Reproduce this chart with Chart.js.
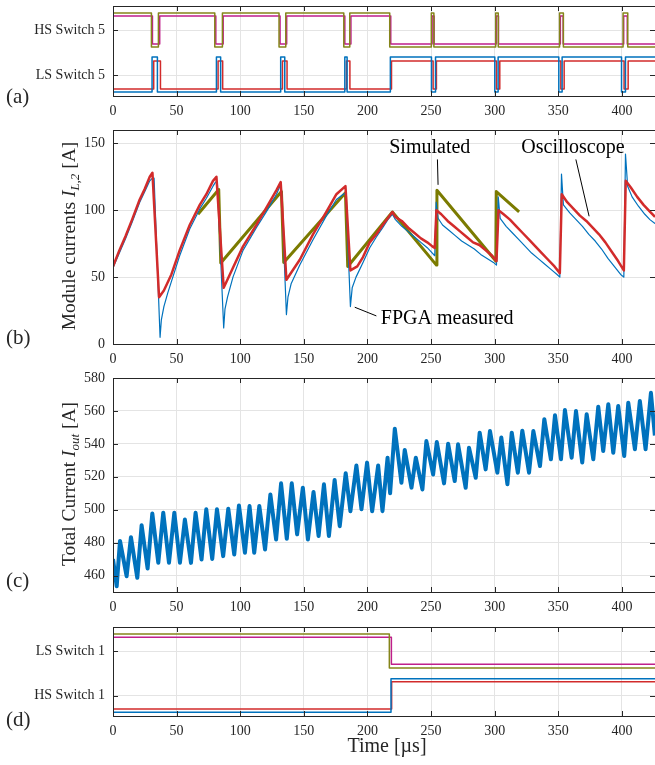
<!DOCTYPE html>
<html>
<head>
<meta charset="utf-8">
<script src="https://cdn.jsdelivr.net/npm/chart.js@4.4.1/dist/chart.umd.min.js"></script>
<style>
  body { margin: 0; background: #fff; }
  #page { position: relative; width: 655px; height: 765px; overflow: hidden;
          font-family: "Liberation Serif", "Times New Roman", serif; color: #262626; }
  canvas { position: absolute; left: 0; }
  .tag { position: absolute; left: 6px; font-size: 21px; line-height: 1; }
  .ytitle { position: absolute; font-size: 19.5px; white-space: nowrap; line-height: 1;
            transform: translate(-50%, -50%) rotate(-90deg); }
  .ytitle sub { font-size: 13px; font-style: italic; vertical-align: -4px; }
  .xtitle { position: absolute; font-size: 20px; white-space: nowrap; line-height: 1;
            transform: translate(-50%, -50%); }
</style>
</head>
<body>
<div id="page">
  <canvas id="pa" width="655" height="122" style="top:0"></canvas>
  <canvas id="pb" width="655" height="250" style="top:122px"></canvas>
  <canvas id="pc" width="655" height="248" style="top:372px"></canvas>
  <canvas id="pd" width="655" height="125" style="top:620px"></canvas>

  <div class="tag" style="top:86px">(a)</div>
  <div class="tag" style="top:327px">(b)</div>
  <div class="tag" style="top:570px">(c)</div>
  <div class="tag" style="top:709px">(d)</div>

  <div class="ytitle" style="left:70px;top:236px">Module currents <i>I</i><sub>L,2</sub> [A]</div>
  <div class="ytitle" style="left:70px;top:484px">Total Current <i>I</i><sub>out</sub> [A]</div>
  <div class="xtitle" style="left:387px;top:745px">Time [µs]</div>
</div>

<script>
const T_MAX = 426;
const timeTicks = [0, 50, 100, 150, 200, 250, 300, 350, 400];

// (a) gate signals of module 5: edge times in µs, every edge toggles the state
const hs5OliveEdges = [30.2, 35.7, 80.0, 86.0, 130.5, 135.8, 181.4, 186.1, 217.5,
  250.2, 252.2, 300.8, 302.8, 351.0, 354.0, 400.9, 404.6];
const hs5MagentaEdges = [31.0, 36.7, 80.8, 86.6, 131.3, 136.5, 182.2, 187.0, 218.3,
  250.8, 252.4, 301.2, 303.0, 351.6, 353.8, 401.4, 404.2];
const ls5BlueEdges = [30.7, 34.9, 81.3, 84.6, 131.8, 135.0, 182.2, 184.0, 218.0,
  250.3, 253.5, 300.1, 302.7, 350.4, 353.0, 399.7, 402.8];
const ls5RedEdges = [32.0, 37.3, 82.6, 86.2, 133.2, 136.8, 183.5, 186.2, 218.9,
  251.6, 254.2, 301.4, 304.0, 352.0, 354.6, 401.7, 404.9];
const switch5Labels = ["LS Switch 5", "HS Switch 5"];

// (b) module currents [A]
const fpgaTime = [0, 5, 10, 15, 21, 25, 28.9, 31, 32.3,
  37, 38, 40, 43, 46, 52.4, 60.3, 68.2, 73.4, 78.6, 80.6, 82,
  87, 88, 90, 94.3, 102.2, 112.7, 120.6, 128.5, 130.8, 132.3,
  136.3, 137.5, 140, 146.8, 157.2, 167.8, 175.6, 181, 183,
  186.6, 188, 191, 196.5, 201.8, 207, 212, 216, 219.6,
  222, 227, 232, 237, 242, 247, 251, 252.9,
  254, 255.5, 259, 264, 269, 274, 279, 284, 289, 294, 299, 301.4,
  302.8, 304.3, 309, 314, 319, 324, 329, 334, 339, 344, 349, 351.2,
  352.5, 354, 359, 364, 369, 374, 379, 384, 389, 394, 399, 401.5,
  402.8, 404.5, 408, 413, 418, 422, 426];
const fpgaCurrent = [57, 68, 79, 91, 106, 114, 122, 124, 124,
  5, 18, 28, 38, 47, 66, 86, 101, 109, 118, 121, 121,
  12, 26, 35, 50, 70, 87, 99, 112, 117, 118,
  22, 35, 45, 59, 78, 96, 108, 112, 113,
  28, 42, 50, 61, 72, 80, 87, 93, 97,
  93, 88, 84, 80, 76, 72, 68, 66,
  106, 94, 89, 85, 81, 77, 74, 71, 67, 64, 61, 59,
  110, 94, 88, 83, 78, 73, 68, 64, 60, 56, 52, 50,
  127, 104, 98, 93, 88, 82, 77, 71, 64, 58, 52, 50,
  142, 118, 110, 103, 97, 93, 90];

const oscTime = [0, 5, 10, 15, 21, 25, 28.9, 31,
  36.2, 40, 45.9, 52.4, 60.3, 68.2, 73.4, 78.6, 81.3,
  87, 94.3, 102.2, 112.7, 120.6, 128.5, 131.8,
  136.3, 146.8, 157.2, 167.8, 175.6, 182.7,
  186.6, 192, 196.5, 201.8, 207, 212, 216, 219.6,
  222, 227, 232, 237, 242, 247, 251, 252.9,
  254.2, 258, 263, 268, 273, 278, 283, 288, 293, 298, 301.4,
  303, 307, 312, 317, 322, 327, 332, 337, 342, 347, 351.2,
  352.7, 357, 362, 367, 372, 377, 382, 387, 392, 397, 401.5,
  403, 407, 412, 417, 422, 426];
const oscCurrent = [58, 70, 81, 93, 108, 116, 125, 128,
  35, 40, 52, 70, 89, 104, 112, 122, 125,
  42, 57, 73, 89, 102, 115, 121,
  48, 63, 82, 99, 112, 118,
  55, 58, 65, 76, 82, 89, 94, 98.7,
  95, 92, 87, 83, 79, 76, 73, 71.7,
  100, 97, 92, 88, 84, 80, 76, 74, 70, 66, 62,
  100, 97, 93, 88, 83, 78, 73, 68, 63, 58, 53,
  112, 106, 101, 96, 92, 87, 82, 76, 69, 62, 55,
  122, 117, 110, 104, 99, 95];

const simTime = [66.8, 83.1, 84.7, 132.4, 134.2, 182.7, 184.5, 219.6, 254.2, 254.6, 300.9, 301.3, 319.2];
const simCurrent = [97, 115.5, 60.5, 114, 61, 113, 58, 98.7, 59, 115, 62, 114, 98.7];

// (c) total output current [A], peaks and troughs
const totalTime = [0, 2.9, 5.5, 10.7, 14.1, 19.1, 22.5, 27.2, 30.9, 35.6,
  39.5, 44, 48.2, 52.6, 56.5, 61.3, 64.9, 69.6, 73.3, 78,
  81.7, 86.6, 90.6, 95.3, 99, 103.7, 107.3, 111, 115, 119.5,
  123.7, 128.2, 132.1, 136.6, 140.5, 144.7, 149.2, 153.2, 157.6, 161.6,
  165.8, 169.7, 174.2, 178.2, 182.9, 186.6, 191.3, 195.3, 199.7, 203.7,
  208.4, 211.8, 215.8, 217.8, 221.5, 226.7, 229.3, 234.6, 238, 243.2,
  246.3, 251.6, 254.5, 260.2, 263.4, 268.6, 271.2, 277.2, 279.8, 285.1,
  288.2, 292.9, 296.3, 302.1, 305.2, 310, 313.4, 318.2, 321.7, 327,
  330.4, 335.6, 339, 344.2, 347.4, 352.1, 355.2, 360.5, 363.9, 368.8,
  372.3, 377.5, 381.4, 385.3, 389.3, 393.2, 397.1, 401.8, 405, 410.2,
  414.1, 418.6, 422.8, 425.9];
const totalCurrent = [470, 453.5, 481, 459.6, 483.3, 458.6, 490.6, 464.3, 497.7, 467.7,
  498.1, 467.7, 498.1, 467.7, 494, 467.7, 498.1, 469.7, 500.2, 470.1,
  500.2, 471.8, 500.6, 472.8, 502.6, 473.8, 502.2, 473.8, 502.2, 475.8,
  509.3, 481.9, 516, 482.3, 516, 485, 513.3, 481.9, 510.7, 484,
  515.4, 484, 518, 490, 522.1, 499.1, 526.9, 500.2, 528.6, 499.1,
  526.9, 499.1, 531.6, 510, 549.2, 516.4, 536.3, 513.4, 531.6, 512.3,
  541.7, 521.4, 541.1, 516, 540.1, 517.4, 539.7, 513.3, 537.7, 519.4,
  546.8, 524.5, 547.8, 522.5, 543.8, 515.4, 546.8, 522.5, 548, 522.5,
  547.8, 526.5, 555, 530.6, 557.4, 530.6, 560.6, 531.6, 560, 528.6,
  558, 530.6, 562.6, 535.7, 564.1, 534.6, 563, 532.6, 565, 536.7,
  566, 536.7, 571, 545];
const totalTicks = [460, 480, 500, 520, 540, 560, 580];

// (d) gate signals of module 1
const ls1OliveEdges = [217.2];
const ls1MagentaEdges = [218.8];
const hs1BlueEdges = [218.5];
const hs1RedEdges = [219.0];
const switch1Labels = ["HS Switch 1", "LS Switch 1"];

const SERIF = '"Liberation Serif", "Times New Roman", serif';
const INK = "#262626";
const GRID = "#e4e4e4";
const BLUE = "#0072bd", RED = "#d22b2b", OLIVE = "#85851a", MAGENTA = "#bf1f8c";

const pairs = (xs, ys) => xs.map((x, i) => ({x, y: ys[i]}));

// square wave from edge list, drawn between the trace's low and high level
function stepPoints(edges, start, lo, hi) {
  let s = start;
  const lvl = () => (s ? hi : lo);
  const pts = [{x: 0, y: lvl()}];
  edges.forEach(t => {
    pts.push({x: t, y: lvl()});
    s = 1 - s;
    pts.push({x: t, y: lvl()});
  });
  pts.push({x: T_MAX, y: lvl()});
  return pts;
}

// MATLAB style box: top edge and inward tick marks
const boxPlugin = {
  id: "box",
  afterDatasetsDraw(chart) {
    const {ctx, chartArea: a, scales: {x, y}} = chart;
    ctx.save();
    ctx.strokeStyle = INK;
    ctx.lineWidth = 1;
    ctx.beginPath();
    ctx.moveTo(a.left, a.top + 0.5); ctx.lineTo(a.right, a.top + 0.5);
    ctx.moveTo(a.left, a.bottom + 0.5); ctx.lineTo(a.right, a.bottom + 0.5);
    ctx.moveTo(a.left + 0.5, a.top); ctx.lineTo(a.left + 0.5, a.bottom + 1);
    x.ticks.forEach(t => {
      const px = Math.round(x.getPixelForValue(t.value)) + 0.5;
      ctx.moveTo(px, a.top); ctx.lineTo(px, a.top + 5);
      ctx.moveTo(px, a.bottom); ctx.lineTo(px, a.bottom - 5);
    });
    y.ticks.forEach(t => {
      const py = Math.round(y.getPixelForValue(t.value)) + 0.5;
      ctx.moveTo(a.left, py); ctx.lineTo(a.left + 5, py);
      ctx.moveTo(a.right, py); ctx.lineTo(a.right - 5, py);
    });
    ctx.stroke();
    ctx.restore();
  }
};

// text callouts in panel (b), anchored in data units
const callouts = [
  {text: "Simulated", at: [249, 147], align: "center", line: [[255, 138], [255.5, 119]]},
  {text: "Oscilloscope", at: [361.5, 147], align: "center", line: [[363.8, 138], [374.2, 95.5]]},
  {text: "FPGA measured", at: [210.5, 19], align: "left", line: [[190, 27.5], [207, 21]]}
];
const calloutPlugin = {
  id: "callouts",
  afterDatasetsDraw(chart) {
    const {ctx, scales: {x, y}} = chart;
    ctx.save();
    ctx.fillStyle = "#000";
    ctx.strokeStyle = "#000";
    ctx.lineWidth = 1;
    ctx.font = "20px " + SERIF;
    ctx.textBaseline = "middle";
    callouts.forEach(c => {
      ctx.textAlign = c.align;
      ctx.fillText(c.text, x.getPixelForValue(c.at[0]), y.getPixelForValue(c.at[1]));
      ctx.beginPath();
      ctx.moveTo(x.getPixelForValue(c.line[0][0]), y.getPixelForValue(c.line[0][1]));
      ctx.lineTo(x.getPixelForValue(c.line[1][0]), y.getPixelForValue(c.line[1][1]));
      ctx.stroke();
    });
    ctx.restore();
  }
};

function makePanel(id, cfg) {
  return new Chart(document.getElementById(id), {
    type: "line",
    data: {datasets: cfg.datasets},
    options: {
      responsive: false,
      animation: false,
      events: [],
      layout: {padding: {top: cfg.padTop, right: 0, bottom: 0, left: 0}, autoPadding: false},
      plugins: {legend: {display: false}, tooltip: {enabled: false}},
      elements: {point: {radius: 0}, line: {tension: 0, borderJoinStyle: "round"}},
      scales: {
        x: {
          type: "linear", min: 0, max: T_MAX,
          afterBuildTicks: s => { s.ticks = timeTicks.map(v => ({value: v})); },
          afterFit: s => { s.height = cfg.xAxisH; s.paddingLeft = 0; s.paddingRight = 0; },
          grid: {color: GRID, drawTicks: false},
          border: {display: false},
          ticks: {font: {family: SERIF, size: 14}, color: INK, padding: 7, maxRotation: 0, autoSkip: false}
        },
        y: {
          type: "linear", min: cfg.yMin, max: cfg.yMax,
          afterBuildTicks: s => { s.ticks = cfg.yTicks.map(v => ({value: v})); },
          afterFit: s => { s.width = 113; s.paddingTop = 0; s.paddingBottom = 0; },
          grid: {color: GRID, drawTicks: false},
          border: {display: false},
          ticks: {font: {family: SERIF, size: 14}, color: INK, padding: 8, callback: cfg.yLabel}
        }
      }
    },
    plugins: [boxPlugin].concat(cfg.plugins || [])
  });
}

const trace = (data, color, width) => ({data, borderColor: color, borderWidth: width, fill: false});

// (a)
makePanel("pa", {
  padTop: 6, xAxisH: 26, yMin: 0, yMax: 1, yTicks: [0.233, 0.733],
  yLabel: (v, i) => switch5Labels[i],
  datasets: [
    trace(stepPoints(hs5OliveEdges, 1, 0.544, 0.922), OLIVE, 1.5),
    trace(stepPoints(hs5MagentaEdges, 1, 0.578, 0.889), MAGENTA, 1.5),
    trace(stepPoints(ls5BlueEdges, 0, 0.044, 0.433), BLUE, 1.5),
    trace(stepPoints(ls5RedEdges, 0, 0.078, 0.389), RED, 1.5)
  ]
});

// (b)
makePanel("pb", {
  padTop: 8, xAxisH: 28, yMin: 0, yMax: 160, yTicks: [0, 50, 100, 150],
  yLabel: v => v,
  plugins: [calloutPlugin],
  datasets: [
    trace(pairs(oscTime, oscCurrent), RED, 2.5),
    trace(pairs(fpgaTime, fpgaCurrent), BLUE, 1.2),
    trace(pairs(simTime, simCurrent), "#7b7b00", 3)
  ]
});

// (c)
makePanel("pc", {
  padTop: 6, xAxisH: 28, yMin: 450, yMax: 580, yTicks: totalTicks,
  yLabel: v => v,
  datasets: [trace(pairs(totalTime, totalCurrent), BLUE, 4)]
});

// (d)
makePanel("pd", {
  padTop: 7, xAxisH: 29, yMin: 0, yMax: 1, yTicks: [0.228, 0.730],
  yLabel: (v, i) => switch1Labels[i],
  datasets: [
    trace(stepPoints(ls1OliveEdges, 1, 0.539, 0.921), OLIVE, 1.5),
    trace(stepPoints(ls1MagentaEdges, 1, 0.581, 0.884), MAGENTA, 1.5),
    trace(stepPoints(hs1BlueEdges, 0, 0.042, 0.419), BLUE, 1.5),
    trace(stepPoints(hs1RedEdges, 0, 0.079, 0.385), RED, 1.5)
  ]
});
</script>
</body>
</html>
